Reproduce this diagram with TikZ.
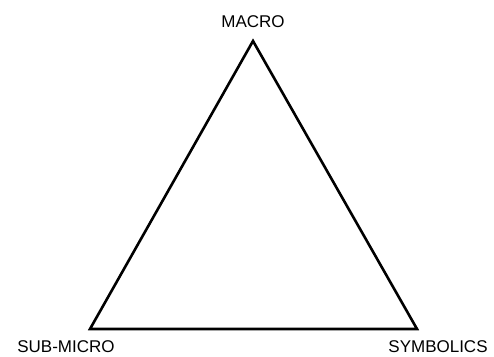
\documentclass[tikz,border=0pt]{standalone}
\usepackage{fontspec}
\setmainfont{Liberation Sans}
\begin{document}
\begin{tikzpicture}[x=1pt, y=-1pt,
    corner/.style={font=\fontsize{17}{20}\selectfont, inner sep=0pt}]
    \useasboundingbox (0,0) rectangle (494,356);

    % Corners
    \coordinate (macro) at (253,41);
    \coordinate (submicro) at (90,329);
    \coordinate (symbolics) at (417,329);

    % Triangle
    \draw[line width=2.6pt, line join=miter] (macro) -- (symbolics) -- (submicro) -- cycle;

    % Labels
    \node[corner] (macrolabel) at (253,22) {MACRO};
    \node[corner] (submicrolabel) at (66,347) {SUB-MICRO};
    \node[corner] (symbolicslabel) at (438,347) {SYMBOLICS};

\end{tikzpicture}
\end{document}
